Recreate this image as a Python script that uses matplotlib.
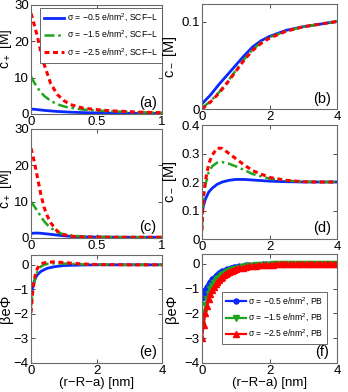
import numpy as np
import matplotlib
matplotlib.use("Agg")
import matplotlib.pyplot as plt

plt.rcParams['font.family'] = ['Liberation Sans', 'DejaVu Sans']
plt.rcParams['mathtext.fontset'] = 'custom'
plt.rcParams['mathtext.rm'] = 'Liberation Sans'
plt.rcParams['mathtext.it'] = 'Liberation Sans'

BLUE = '#0a28ff'
GREEN = '#1fa51f'
RED = '#ff0000'

labels_scf = ["σ = −0.5 e/nm$^2$, SCF−L", "σ = −1.5 e/nm$^2$, SCF−L", "σ = −2.5 e/nm$^2$, SCF−L"]
labels_pb = ["σ = −0.5 e/nm$^2$, PB", "σ = −1.5 e/nm$^2$, PB", "σ = −2.5 e/nm$^2$, PB"]

# (a) c+ , bulk 0.1 M
x_a = [0, 0.025, 0.05, 0.075, 0.1, 0.15, 0.2, 0.25, 0.3, 0.4, 0.5, 0.6, 0.8, 1.0]
blue_a = [1.35, 1.3, 1.2, 1.1, 1.0, 0.85, 0.7, 0.6, 0.5, 0.38, 0.3, 0.25, 0.18, 0.14]
green_a = [10.3, 8.6, 7.2, 6.0, 5.0, 3.6, 2.7, 2.1, 1.7, 1.2, 0.95, 0.75, 0.5, 0.35]
red_a = [27.7, 24.5, 21.2, 17.0, 13.7, 8.4, 5.4, 3.7, 2.6, 1.6, 1.2, 0.9, 0.55, 0.35]

# (b) c- , bulk 0.1 M
x_b = [0, 0.25, 0.5, 0.75, 1, 1.25, 1.5, 1.75, 2, 2.5, 3, 3.5, 4]
blue_b = [0.006, 0.016, 0.028, 0.039, 0.050, 0.061, 0.071, 0.078, 0.083, 0.090, 0.094, 0.097, 0.100]
green_b = [0.001, 0.009, 0.019, 0.031, 0.044, 0.057, 0.068, 0.076, 0.082, 0.089, 0.094, 0.097, 0.100]
red_b = [0.0, 0.008, 0.018, 0.030, 0.043, 0.056, 0.067, 0.075, 0.081, 0.089, 0.094, 0.097, 0.100]

# (c) c+ , bulk 0.2 M
x_c = [0, 0.025, 0.05, 0.075, 0.1, 0.125, 0.15, 0.2, 0.25, 0.3, 0.4, 0.5, 0.7, 1.0]
blue_c = [1.2, 1.35, 1.35, 1.3, 1.2, 1.1, 1.0, 0.8, 0.6, 0.45, 0.3, 0.25, 0.21, 0.2]
green_c = [10.0, 8.7, 7.4, 5.9, 4.6, 3.6, 2.8, 1.6, 1.0, 0.7, 0.4, 0.3, 0.22, 0.2]
red_c = [24.7, 21.0, 16.5, 12.0, 8.4, 6.0, 4.2, 1.9, 0.9, 0.5, 0.3, 0.25, 0.2, 0.2]

# (d) c- , bulk 0.2 M
x_d = [0, 0.02, 0.05, 0.1, 0.2, 0.3, 0.45, 0.6, 0.8, 1.0, 1.25, 1.5, 2.0, 2.5, 3.0, 3.5, 4.0]
blue_d = [0.09, 0.105, 0.12, 0.14, 0.165, 0.178, 0.192, 0.2, 0.206, 0.209, 0.209, 0.207, 0.203, 0.201, 0.2, 0.2, 0.2]
green_d = [0.04, 0.10, 0.15, 0.19, 0.235, 0.255, 0.268, 0.27, 0.264, 0.255, 0.242, 0.228, 0.212, 0.205, 0.201, 0.2, 0.2]
red_d = [0.03, 0.10, 0.155, 0.204, 0.264, 0.294, 0.319, 0.318, 0.30, 0.282, 0.26, 0.24, 0.216, 0.206, 0.201, 0.2, 0.2]

# (e) potential, SCF-L
x_e = [0, 0.05, 0.1, 0.15, 0.2, 0.3, 0.4, 0.5, 0.7, 1.0, 1.5, 2.0, 3.0, 4.0]
blue_e = [-1.25, -0.9, -0.67, -0.5, -0.4, -0.27, -0.2, -0.14, -0.08, -0.03, -0.01, 0, 0, 0]
green_e = [-1.7, -1.1, -0.7, -0.43, -0.27, -0.07, 0.0, 0.04, 0.06, 0.05, 0.02, 0.01, 0, 0]
red_e = [-1.95, -1.14, -0.6, -0.3, -0.13, 0.04, 0.08, 0.1, 0.12, 0.09, 0.04, 0.01, 0, 0]

# (f) potential, PB
x_f = [0, 0.05, 0.1, 0.15, 0.2, 0.25, 0.3, 0.35, 0.4, 0.45, 0.5, 0.55, 0.6, 0.65, 0.7, 0.75, 0.8, 0.85, 0.9, 0.95, 1.0,
       1.1, 1.2, 1.3, 1.4, 1.5, 1.6, 1.7, 1.8, 1.9, 2.0, 2.1, 2.2, 2.3, 2.4, 2.5, 2.6, 2.7, 2.8, 2.9, 3.0,
       3.1, 3.2, 3.3, 3.4, 3.5, 3.6, 3.7, 3.8, 3.9, 4.0]
blue_f = [-1.38, -1.2, -1.06, -0.93, -0.82, -0.72, -0.63, -0.56, -0.49, -0.43, -0.38, -0.34, -0.30, -0.27, -0.24,
          -0.21, -0.19, -0.17, -0.15, -0.135, -0.12,
          -0.097, -0.078, -0.063, -0.051, -0.041, -0.033, -0.027, -0.022, -0.018, -0.014,
          -0.011, -0.009, -0.007, -0.006, -0.005, -0.004, -0.003, -0.003, -0.002, -0.002,
          -0.001, -0.001, -0.001, -0.001, -0.001, 0, 0, 0, 0, 0]
green_f = [-2.48, -2.0, -1.67, -1.40, -1.2, -1.03, -0.9, -0.79, -0.7, -0.62, -0.55, -0.49, -0.44, -0.39, -0.35,
           -0.31, -0.28, -0.25, -0.23, -0.21, -0.19,
           -0.155, -0.127, -0.104, -0.085, -0.07, -0.058, -0.048, -0.04, -0.033, -0.027,
           -0.022, -0.018, -0.015, -0.012, -0.01, -0.008, -0.007, -0.006, -0.005, -0.004,
           -0.003, -0.003, -0.002, -0.002, -0.001, -0.001, -0.001, -0.001, 0, 0]
red_f = [-3.0, -2.45, -2.0, -1.68, -1.42, -1.22, -1.06, -0.93, -0.82, -0.72, -0.64, -0.57, -0.51, -0.46, -0.41,
         -0.37, -0.33, -0.30, -0.27, -0.24, -0.22,
         -0.18, -0.15, -0.12, -0.10, -0.085, -0.07, -0.058, -0.048, -0.04, -0.033,
         -0.027, -0.022, -0.018, -0.015, -0.012, -0.01, -0.008, -0.007, -0.006, -0.005,
         -0.004, -0.003, -0.003, -0.002, -0.002, -0.001, -0.001, -0.001, -0.001, 0]


def style_axes(ax, xlim, ylim, xticks, yticks, xtl, ytl, panel):
    ax.set_xlim(xlim)
    ax.set_ylim(ylim)
    ax.set_xticks(xticks)
    ax.set_yticks(yticks)
    ax.set_xticklabels(xtl)
    ax.set_yticklabels(ytl)
    ax.tick_params(direction='in', length=3, width=0.6, top=True, right=True,
                   labelsize=9.5, pad=1.5, colors='#303030', labelcolor='black')
    for s in ax.spines.values():
        s.set_color('#6a6a6a')
        s.set_linewidth(0.8)
    ax.text(0.89, 0.1, panel, transform=ax.transAxes, ha='center', va='center', fontsize=10.5)


def plot_three(ax, x, b, g, r):
    ax.plot(x, b, color=BLUE, lw=2.0, ls='-')
    ax.plot(x, g, color=GREEN, lw=1.8, ls=(0, (4, 1.5, 1, 1.5)))
    ax.plot(x, r, color=RED, lw=2.2, ls=(0, (1.6, 1.2)))


fig = plt.figure(figsize=(3.48, 3.92), dpi=100)

ax_a = fig.add_axes([0.0891, 0.7092, 0.3764, 0.2781])
ax_b = fig.add_axes([0.5805, 0.7219, 0.3879, 0.2679])
ax_c = fig.add_axes([0.0891, 0.3929, 0.3764, 0.2781])
ax_d = fig.add_axes([0.5805, 0.3903, 0.3879, 0.2908])
ax_e = fig.add_axes([0.0891, 0.0740, 0.3764, 0.2755])
ax_f = fig.add_axes([0.5805, 0.0740, 0.3879, 0.2781])

# (a)
ax_a.plot(x_a, blue_a, color=BLUE, lw=2.0, ls='-', label=labels_scf[0])
ax_a.plot(x_a, green_a, color=GREEN, lw=1.8, ls=(0, (4, 1.5, 1, 1.5)), label=labels_scf[1])
ax_a.plot(x_a, red_a, color=RED, lw=2.2, ls=(0, (1.6, 1.2)), label=labels_scf[2])
style_axes(ax_a, (0, 1), (0, 30), [0, 0.5, 1], [0, 10, 20, 30], ['0', '0.5', '1'], ['0', '10', '20', '30'], '(a)')
leg = ax_a.legend(loc='upper right', bbox_to_anchor=(1.0, 0.975), borderaxespad=0, fontsize=6.2,
                  handlelength=2.3, handletextpad=0.3, labelspacing=0.6, borderpad=0.5,
                  fancybox=False, framealpha=1)
leg.get_frame().set_edgecolor('#505050')
leg.get_frame().set_linewidth(0.6)
ax_a.set_ylabel('c$_+$ [M]', fontsize=10)
ax_a.yaxis.set_label_coords(-0.13, 0.6)

# (b)
plot_three(ax_b, x_b, blue_b, green_b, red_b)
style_axes(ax_b, (0, 4), (0, 0.12), [0, 2, 4], [0, 0.1], ['0', '2', '4'], ['0', '0.1'], '(b)')
ax_b.set_ylabel('c$_-$ [M]', fontsize=10.5)
ax_b.yaxis.set_label_coords(-0.17, 0.5)

# (c)
plot_three(ax_c, x_c, blue_c, green_c, red_c)
style_axes(ax_c, (0, 1), (0, 30), [0, 0.5, 1], [0, 10, 20, 30], ['0', '0.5', '1'], ['0', '10', '20', '30'], '(c)')
ax_c.set_ylabel('c$_+$ [M]', fontsize=10)
ax_c.yaxis.set_label_coords(-0.13, 0.45)

# (d)
plot_three(ax_d, x_d, blue_d, green_d, red_d)
style_axes(ax_d, (0, 4), (0, 0.4), [0, 2, 4], [0, 0.1, 0.2, 0.3, 0.4], ['0', '2', '4'],
           ['0', '0.1', '0.2', '0.3', '0.4'], '(d)')
ax_d.set_ylabel('c$_-$ [M]', fontsize=10.5)
ax_d.yaxis.set_label_coords(-0.17, 0.5)

# (e)
plot_three(ax_e, x_e, blue_e, green_e, red_e)
style_axes(ax_e, (0, 4), (-4, 0.4), [0, 2, 4], [-4, -3, -2, -1, 0], ['0', '2', '4'],
           ['−4', '−3', '−2', '−1', '0'], '(e)')
ax_e.set_ylabel('βeΦ', fontsize=10.5)
ax_e.yaxis.set_label_coords(-0.135, 0.5)
ax_e.set_xlabel('(r−R−a) [nm]', fontsize=9.5, labelpad=0)

# (f)
ax_f.plot(x_f, blue_f, color=BLUE, lw=1.6, marker='o', ms=3.6, label=labels_pb[0])
ax_f.plot(x_f, green_f, color=GREEN, lw=1.6, marker='v', ms=3.8, label=labels_pb[1])
ax_f.plot(x_f, red_f, color=RED, lw=1.6, marker='^', ms=3.8, label=labels_pb[2])
style_axes(ax_f, (0, 4), (-4, 0.4), [0, 2, 4], [-4, -3, -2, -1, 0], ['0', '2', '4'],
           ['−4', '−3', '−2', '−1', '0'], '(f)')
leg = ax_f.legend(loc='upper right', bbox_to_anchor=(0.926, 0.65), borderaxespad=0, fontsize=6.2,
                  handlelength=2.3, handletextpad=0.3, labelspacing=0.5, borderpad=0.4,
                  fancybox=False, framealpha=1)
leg.get_frame().set_edgecolor('#505050')
leg.get_frame().set_linewidth(0.6)
ax_f.set_ylabel('βeΦ', fontsize=10.5)
ax_f.yaxis.set_label_coords(-0.17, 0.5)
ax_f.set_xlabel('(r−R−a) [nm]', fontsize=9.5, labelpad=0)

fig.savefig('out.png', dpi=100)
